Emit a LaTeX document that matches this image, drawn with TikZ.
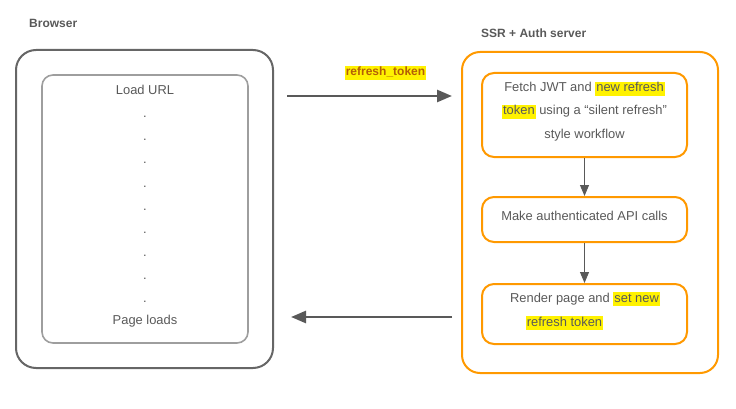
\documentclass[tikz,border=0pt]{standalone}
\usepackage{fontspec}
\setmainfont{Liberation Sans}
\usetikzlibrary{arrows.meta}
\definecolor{txt}{HTML}{595959}
\definecolor{dgray}{HTML}{666666}
\definecolor{lgray}{HTML}{9E9E9E}
\definecolor{orng}{HTML}{FF9900}
\definecolor{tok}{HTML}{B45F06}
\newcommand{\hlt}[1]{{\setlength{\fboxsep}{0pt}\colorbox{yellow}{\rule[-4pt]{0pt}{14pt}\kern1pt #1\kern1pt}}}
\tikzset{
  lbl/.style={font=\fontsize{12}{14}\selectfont\bfseries, text=txt, inner sep=0pt},
  txtline/.style={font=\fontsize{12.9}{15}\selectfont, text=txt, inner sep=0pt},
  outerbrowser/.style={draw=dgray, line width=2pt, rounded corners=20pt},
  innerbrowser/.style={draw=lgray, line width=1.6pt, rounded corners=11pt},
  outerserver/.style={draw=orng, line width=2pt, rounded corners=18pt},
  stepbox/.style={draw=orng, line width=2pt, rounded corners=12pt, minimum width=205pt},
  harr/.style={draw=txt, line width=2.6pt, -{Triangle[length=15pt,width=12pt]}},
  varr/.style={draw=txt, line width=1pt, -{Triangle[length=11pt,width=9pt]}},
}
\begin{document}
\begin{tikzpicture}[x=1pt,y=-1pt]
\useasboundingbox (0,0) rectangle (736,409);
% Browser side
\node[lbl, anchor=west] (browserlbl) at (29,23) {Browser};
\node[outerbrowser, minimum width=257pt, minimum height=318pt] (browser) at (144.5,209) {};
\node[innerbrowser, minimum width=206pt, minimum height=268pt] (inner) at (145,209) {};
\node[txtline] (loadurl) at (145,90) {Load URL};
\foreach \i/\yy in {1/118,2/141,3/164,4/187,5/210,6/233,7/256,8/279,9/302}
  \node[txtline, anchor=base] (dot\i) at (145,\yy) {.};
\node[txtline] (pageloads) at (145,321) {Page loads};
% Server side
\node[lbl, anchor=west] (ssrlbl) at (481,33) {SSR + Auth server};
\node[outerserver, minimum width=256pt, minimum height=321pt] (server) at (590,212.5) {};
\node[stepbox, minimum height=84pt] (fetch) at (584.5,115) {};
\node[stepbox, minimum height=45pt] (api) at (584.5,219.5) {};
\node[stepbox, minimum height=60pt] (render) at (584.5,314) {};
\node[txtline] (f1) at (584.5,89) {Fetch JWT and \hlt{new refresh}};
\node[txtline] (f2) at (584.5,112) {\hlt{token} using a “silent refresh”};
\node[txtline] (f3) at (584.5,135.5) {style workflow};
\node[txtline] (a1) at (584.5,216) {Make authenticated API calls};
\node[txtline] (r1) at (585,299) {Render page and \hlt{set new}};
\node[txtline] (r2) at (564.5,323) {\hlt{refresh token}};
% Token label
\node[lbl, text=tok] (toklbl) at (385.5,73) {\hlt{refresh\_token}};
% Connectors
\coordinate (topy) at (0,96);
\coordinate (boty) at (0,317);
\draw[harr, shorten <=13pt, shorten >=9pt] (browser.east |- topy) -- (server.west |- topy);
\draw[harr, shorten <=9pt, shorten >=17pt] (server.west |- boty) -- (browser.east |- boty);
\draw[varr] (fetch.south) -- (api.north);
\draw[varr] (api.south) -- (render.north);
\end{tikzpicture}
\end{document}
